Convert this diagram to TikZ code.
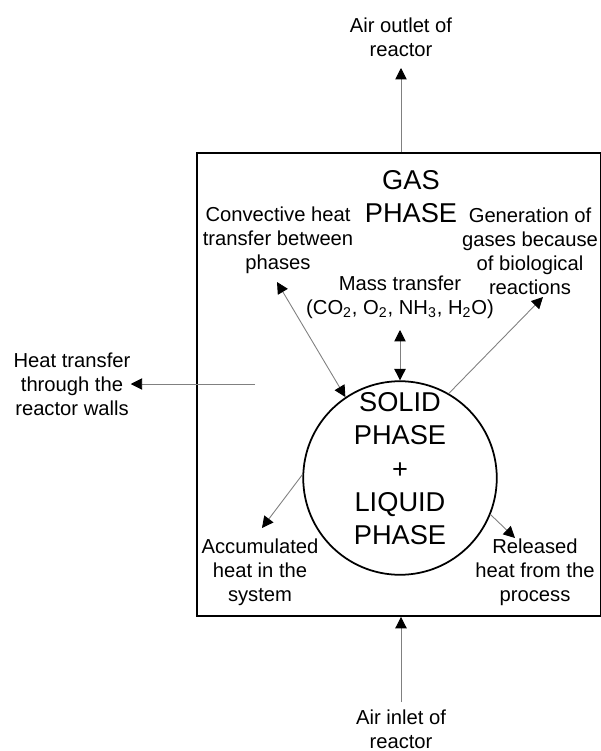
\documentclass[tikz,border=0pt]{standalone}
\usepackage{fontspec}
\setmainfont{Liberation Sans}
\usetikzlibrary{arrows.meta}
\tikzset{
  lbl/.style={align=center,inner sep=0pt,font=\fontsize{11.5}{13.7}\selectfont},
  big/.style={align=center,inner sep=0pt,font=\fontsize{15.5}{18.8}\selectfont},
  flow/.style={draw=black!50,line width=0.5pt,-{Triangle[length=6.5pt,width=6.5pt,black]}},
  twoway/.style={draw=black!50,line width=0.5pt,{Triangle[length=6.5pt,width=6.5pt,black]}-{Triangle[length=6.5pt,width=6.5pt,black]}},
}
\begin{document}
\begin{tikzpicture}[x=0.02cm,y=-0.02cm]
    \useasboundingbox[fill=white] (0,0) rectangle (601,751);
    % reactor and phases
    \node[draw,line width=1.1pt,minimum width=8.08cm,minimum height=9.26cm,inner sep=0pt] (reactor) at (399,384.5) {};
    \node[big] (gas) at (411,197) {GAS\\PHASE};
    \node[big,draw,circle,line width=1pt,minimum size=3.8cm,inner sep=0pt] (phase) at (400,478) {SOLID\\PHASE\\+\\LIQUID\\PHASE\\[-8pt]};
    % labels
    \node[lbl] (outlet) at (401,37) {Air outlet of\\reactor};
    \node[lbl] (inlet) at (401,729) {Air inlet of\\reactor};
    \node[lbl] (conv) at (278,240) {Convective heat\\transfer between\\phases};
    \node[lbl] (gen) at (530,251) {Generation of\\gases because\\of biological\\reactions};
    \node[lbl] (mass) at (400,297) {Mass transfer\\(CO\textsubscript{2}, O\textsubscript{2}, NH\textsubscript{3}, H\textsubscript{2}O)};
    \node[lbl] (heat) at (72,384) {Heat transfer\\through the\\reactor walls};
    \node[lbl] (accum) at (260,572) {Accumulated\\heat in the\\system};
    \node[lbl] (released) at (535,572) {Released\\heat from the\\process};
    % free ends
    \coordinate (outtip) at (401,68);
    \coordinate (intail) at (401,702);
    \coordinate (wallin) at (255,384);
    \coordinate (convtip) at (277,282);
    \coordinate (masstip) at (400,330);
    \coordinate (gentip) at (543,297);
    \coordinate (acctip) at (262,528);
    \coordinate (reltip) at (515,538);
    % arrows
    \draw[flow] (reactor.north -| outtip) -- (outtip);
    \draw[flow] (intail) -- (reactor.south -| intail);
    \draw[flow] (wallin) -- (heat.east);
    \draw[twoway] (phase.124) -- (convtip);
    \draw[twoway] (phase.north) -- (masstip);
    \draw[flow] (phase.60) -- (gentip);
    \draw[flow] (phase.178) -- (acctip);
    \draw[flow] (phase.-22) -- (reltip);
\end{tikzpicture}
\end{document}
